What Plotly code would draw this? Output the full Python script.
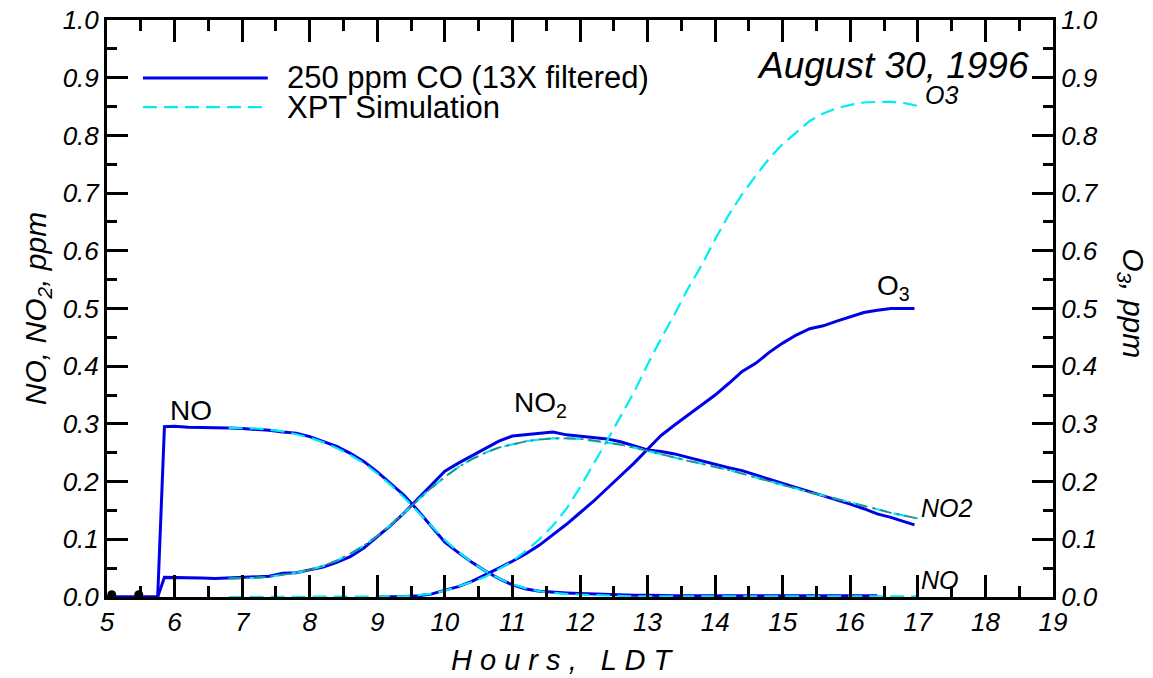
import plotly.graph_objects as go

# observed data, 250 ppm CO (13X filtered)
obs_hours = [5.0, 5.75, 5.85, 6.0, 6.2, 6.4, 6.6, 6.8, 7.0, 7.2, 7.4, 7.6, 7.8, 8.0, 8.2, 8.4,
             8.6, 8.8, 9.0, 9.2, 9.4, 9.6, 9.8, 10.0, 10.2, 10.4, 10.6, 10.8, 11.0, 11.2, 11.4,
             11.6, 11.8, 12.0, 12.2, 12.4, 12.6, 12.8, 13.0, 13.2, 13.4, 13.6, 13.8, 14.0, 14.2,
             14.4, 14.6, 14.8, 15.0, 15.2, 15.4, 15.6, 15.8, 16.0, 16.2, 16.4, 16.6, 16.8, 16.95]
obs_no = [0, 0, 0.295, 0.296, 0.294, 0.294, 0.293, 0.293, 0.292, 0.291, 0.289, 0.286, 0.284,
          0.278, 0.270, 0.261, 0.249, 0.235, 0.217, 0.196, 0.176, 0.150, 0.122, 0.095, 0.077,
          0.060, 0.045, 0.032, 0.021, 0.014, 0.010, 0.008, 0.007, 0.006, 0.005, 0.005, 0.004,
          0.003, 0.003, 0.002, 0.002, 0.002, 0.002, 0.002, 0.002, 0.002, 0.002, 0.002, 0.002,
          0.002, 0.002, 0.002, 0.002, 0.002, 0.002, 0.002, None, None, None]
obs_no2 = [0, 0, 0.034, 0.034, 0.033, 0.033, 0.032, 0.033, 0.033, 0.034, 0.036, 0.041, 0.042,
           0.047, 0.052, 0.060, 0.070, 0.085, 0.104, 0.124, 0.146, 0.170, 0.195, 0.218, 0.232,
           0.245, 0.258, 0.270, 0.279, 0.281, 0.284, 0.286, 0.281, 0.279, 0.277, 0.274, 0.269,
           0.262, 0.255, 0.252, 0.248, 0.242, 0.236, 0.229, 0.224, 0.219, 0.211, 0.204, 0.197,
           0.190, 0.183, 0.176, 0.168, 0.161, 0.153, 0.144, 0.138, 0.131, 0.125]
obs_o3 = [None, None, None, None, None, None, None, None, None, None, None, None, None,
          None, None, None, None, None, 0.0, 0.0, 0.001, 0.002, 0.005, 0.012, 0.018, 0.027,
          0.038, 0.050, 0.062, 0.075, 0.090, 0.108, 0.126, 0.146, 0.166, 0.188, 0.210, 0.232,
          0.256, 0.280, 0.298, 0.315, 0.332, 0.350, 0.370, 0.391, 0.405, 0.424, 0.440, 0.454,
          0.465, 0.470, 0.478, 0.486, 0.493, 0.497, 0.500, 0.500, 0.500]

# XPT simulation
sim_hours = [6.8, 7.0, 7.2, 7.4, 7.6, 7.8, 8.0, 8.2, 8.4, 8.6, 8.8, 9.0, 9.2, 9.4, 9.6, 9.8,
             10.0, 10.2, 10.4, 10.6, 10.8, 11.0, 11.2, 11.4, 11.6, 11.8, 12.0, 12.2, 12.4, 12.6,
             12.8, 13.0, 13.2, 13.4, 13.6, 13.8, 14.0, 14.2, 14.4, 14.6, 14.8, 15.0, 15.2, 15.4,
             15.6, 15.8, 16.0, 16.2, 16.4, 16.6, 16.8, 17.0]
sim_no = [0.293, 0.293, 0.292, 0.290, 0.287, 0.282, 0.276, 0.268, 0.258, 0.246, 0.232, 0.214,
          0.194, 0.172, 0.148, 0.123, 0.099, 0.078, 0.060, 0.045, 0.032, 0.022, 0.015, 0.010,
          0.007, 0.005, 0.004, 0.003, 0.002, 0.002, 0.001, 0.001, 0.001, 0.001, 0.001, 0.001,
          0.001, 0.001, 0.001, 0.001, 0.001, 0.001, 0.001, 0.001, 0.001, 0.001, 0.001, 0.001,
          0.001, 0.001, 0.001, 0.001]
sim_no2 = [0.032, 0.032, 0.033, 0.035, 0.038, 0.042, 0.047, 0.054, 0.063, 0.075, 0.089, 0.106,
           0.125, 0.146, 0.168, 0.189, 0.208, 0.225, 0.239, 0.250, 0.259, 0.265, 0.270, 0.273,
           0.275, 0.275, 0.274, 0.271, 0.268, 0.264, 0.259, 0.253, 0.248, 0.242, 0.236, 0.231,
           0.226, 0.220, 0.214, 0.207, 0.200, 0.194, 0.188, 0.181, 0.176, 0.170, 0.164, 0.157,
           0.151, 0.146, 0.141, 0.136]
sim_o3 = [0, 0, 0, 0, 0, 0, 0, 0, 0, 0, 0, 0, 0, 0.001, 0.003, 0.006, 0.011, 0.018, 0.026,
          0.035, 0.048, 0.062, 0.080, 0.100, 0.124, 0.153, 0.190, 0.230, 0.271, 0.313, 0.355,
          0.403, 0.448, 0.490, 0.535, 0.575, 0.620, 0.662, 0.698, 0.730, 0.760, 0.785, 0.805,
          0.825, 0.838, 0.847, 0.853, 0.857, 0.858, 0.858, 0.856, 0.851]

# early points near the start of the record
dot_hours = [5.07, 5.47]
dot_vals = [0.004, 0.004]

FONT = "Liberation Sans"
BLUE = "#0000e8"
CYAN = "#00ecf4"
TEAL = "#2a8c8c"
SIM_DASH = "14px,7px"

fig = go.Figure()

for y in [obs_no, obs_no2, obs_o3]:
    fig.add_trace(go.Scatter(x=obs_hours, y=y, mode="lines",
                             line=dict(color=BLUE, width=3)))

for y in [sim_no, sim_no2, sim_o3]:
    fig.add_trace(go.Scatter(x=sim_hours, y=y, mode="lines",
                             line=dict(color=CYAN, width=2.2, dash=SIM_DASH)))

# darker dash-dot run sits on top of the NO2 simulation
fig.add_trace(go.Scatter(x=sim_hours, y=sim_no2, mode="lines",
                         line=dict(color=TEAL, width=1.8, dash="12px,5px,3px,5px")))

fig.add_trace(go.Scatter(x=dot_hours, y=dot_vals, mode="markers", cliponaxis=False,
                         marker=dict(color="black", size=9)))

# empty trace so the right-hand axis shows
fig.add_trace(go.Scatter(x=[None], y=[None], yaxis="y2"))

tickfont = dict(family=FONT, size=26, color="black", style="italic")

fig.update_layout(
    width=1145, height=670,
    margin=dict(l=99, r=100, t=12, b=81),
    plot_bgcolor="white", paper_bgcolor="white",
    showlegend=False,
    font=dict(family=FONT, color="black"),
    xaxis=dict(range=[5, 19], dtick=1, tick0=5, ticks="inside", ticklen=22, tickwidth=2.5,
               tickcolor="black", showline=True, linewidth=3, linecolor="black",
               mirror="ticks", showgrid=False, zeroline=False, tickfont=tickfont,
               automargin=False, ticklabeloverflow="allow",
               minor=dict(dtick=0.5, ticks="inside", ticklen=11, tickwidth=2.5,
                          tickcolor="black", showgrid=False)),
    yaxis=dict(range=[0, 1], dtick=0.1, tickformat=".1f", ticks="inside", ticklen=21,
               tickwidth=2.5, tickcolor="black", showline=True, linewidth=3,
               linecolor="black", showgrid=False, zeroline=False, tickfont=tickfont,
               automargin=False, ticklabeloverflow="allow",
               minor=dict(dtick=0.05, ticks="inside", ticklen=10, tickwidth=2.5,
                          tickcolor="black", showgrid=False),
               title=dict(text="NO, NO<sub>2</sub>, ppm", standoff=8,
                          font=dict(family=FONT, size=30, style="italic"))),
    yaxis2=dict(range=[0, 1], dtick=0.1, tickformat=".1f", ticks="inside", ticklen=21,
                tickwidth=2.5, tickcolor="black", showline=True, linewidth=3,
                linecolor="black", showgrid=False, zeroline=False, tickfont=tickfont,
                overlaying="y", side="right", automargin=False, ticklabeloverflow="allow",
                minor=dict(dtick=0.05, ticks="inside", ticklen=10, tickwidth=2.5,
                           tickcolor="black", showgrid=False)),
)

# x title sits a little left of centre in the original
fig.add_annotation(text="H o u r s ,   L D T", xref="paper", yref="paper", x=0.482, y=-0.109,
                   xanchor="center", yanchor="middle", showarrow=False,
                   font=dict(family=FONT, size=29, style="italic"))

# right axis title, reading downward
fig.add_annotation(text="O<sub>3</sub>, ppm", xref="paper", yref="paper", x=1.083, y=0.51,
                   xanchor="center", yanchor="middle", textangle=90, showarrow=False,
                   font=dict(family=FONT, size=30, style="italic"))

# legend drawn by hand so the line samples are long
fig.add_shape(type="line", xref="paper", yref="paper", x0=0.038, x1=0.170, y0=0.8995, y1=0.8995,
              line=dict(color=BLUE, width=3))
fig.add_shape(type="line", xref="paper", yref="paper", x0=0.038, x1=0.170, y0=0.849, y1=0.849,
              line=dict(color=CYAN, width=2.2, dash=SIM_DASH))
fig.add_annotation(text="250 ppm CO (13X filtered)", xref="paper", yref="paper", x=0.188,
                   y=0.8995, xanchor="left", yanchor="middle", showarrow=False,
                   font=dict(size=31))
fig.add_annotation(text="XPT Simulation", xref="paper", yref="paper", x=0.188,
                   y=0.849, xanchor="left", yanchor="middle", showarrow=False,
                   font=dict(size=31))

# labels in the plot
fig.add_annotation(text="August 30, 1996", x=18.68, y=0.922, xanchor="right", yanchor="middle",
                   showarrow=False, font=dict(size=37, style="italic"))
fig.add_annotation(text="NO", x=5.9, y=0.324, xanchor="left", yanchor="middle",
                   showarrow=False, font=dict(size=28))
fig.add_annotation(text="NO<sub>2</sub>", x=11.0, y=0.333, xanchor="left", yanchor="middle",
                   showarrow=False, font=dict(size=28))
fig.add_annotation(text="O<sub>3</sub>", x=16.37, y=0.537, xanchor="left", yanchor="middle",
                   showarrow=False, font=dict(size=28))
fig.add_annotation(text="O3", x=17.07, y=0.87, xanchor="left", yanchor="middle",
                   showarrow=False, font=dict(size=25, style="italic"))
fig.add_annotation(text="NO2", x=17.02, y=0.154, xanchor="left", yanchor="middle",
                   showarrow=False, font=dict(size=25, style="italic"))
fig.add_annotation(text="NO", x=17.02, y=0.03, xanchor="left", yanchor="middle",
                   showarrow=False, font=dict(size=25, style="italic"))

fig.write_html("out.html")
